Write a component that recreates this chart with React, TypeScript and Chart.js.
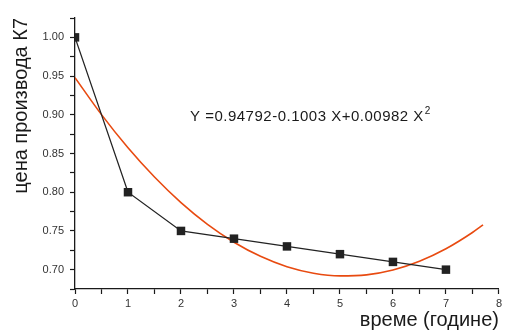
import React, { useEffect, useRef } from "react";
import { Chart, registerables } from "chart.js";

Chart.register(...registerables);

const timeX = [0, 1, 2, 3, 4, 5, 6, 7];
const priceK7 = [1.0, 0.8, 0.75, 0.74, 0.73, 0.72, 0.71, 0.7];

const fitX = [0, 0.5, 1, 1.5, 2, 2.5, 3, 3.5, 4, 4.5, 5, 5.5, 6, 6.5, 7, 7.5, 7.7];
const fitY = [0.948, 0.9002, 0.8574, 0.8196, 0.7866, 0.7585, 0.7354, 0.7172, 0.7038, 0.6954, 0.6919, 0.6933, 0.6996, 0.7109, 0.727, 0.748, 0.7578];

const yTitle = "цена производа К7";
const xTitle = "време (године)";
const equationMain = "Y =0.94792-0.1003 X+0.00982 X";
const equationSup = "2";
const equationAt = { x: 2.17, y: 0.897 };

const FONT = "'Liberation Sans', Arial, sans-serif";

const equationPlugin = {
  id: "equation",
  afterDatasetsDraw(chart: any) {
    const ctx = chart.ctx;
    const xs = chart.scales.x;
    const ys = chart.scales.y;
    const px = xs.getPixelForValue(equationAt.x);
    const py = ys.getPixelForValue(equationAt.y);
    ctx.save();
    ctx.fillStyle = "#1a1a1a";
    ctx.font = `15px ${FONT}`;
    (ctx as any).letterSpacing = "0.5px";
    ctx.textBaseline = "middle";
    ctx.textAlign = "left";
    ctx.fillText(equationMain, px, py);
    const w = ctx.measureText(equationMain).width;
    ctx.font = `10px ${FONT}`;
    (ctx as any).letterSpacing = "0px";
    ctx.fillText(equationSup, px + w + 1, py - 6);
    ctx.restore();
  },
};

export default function App() {
  const ref = useRef<HTMLCanvasElement>(null);
  useEffect(() => {
    document.body.style.margin = "0";
    const chart = new Chart(ref.current!, {
      type: "line",
      data: {
        datasets: [
          {
            label: "K7",
            data: timeX.map((x, i) => ({ x, y: priceK7[i] })),
            borderColor: "#222222",
            backgroundColor: "#222222",
            borderWidth: 1.3,
            pointStyle: "rect",
            pointRadius: 6,
            pointBorderWidth: 0,
            tension: 0,
          },
          {
            label: "fit",
            data: fitX.map((x, i) => ({ x, y: fitY[i] })),
            borderColor: "#e84a10",
            borderWidth: 1.6,
            pointRadius: 0,
            cubicInterpolationMode: "monotone",
          },
        ],
      },
      options: {
        animation: false,
        responsive: false,
        maintainAspectRatio: false,
        layout: { padding: { top: 18, right: 5, left: 9, bottom: 0 } },
        plugins: { legend: { display: false }, tooltip: { enabled: false } },
        scales: {
          x: {
            type: "linear",
            min: 0,
            max: 8,
            afterFit: (s: any) => {
              s.height = 43;
            },
            border: { color: "#1a1a1a", width: 1.3 },
            grid: { drawOnChartArea: false, tickLength: 5, color: "#1a1a1a", tickWidth: 1.2 },
            ticks: {
              stepSize: 0.5,
              autoSkip: false,
              maxRotation: 0,
              padding: 3,
              color: "#333",
              font: { family: FONT, size: 11 },
              callback: (v: any) => (Number.isInteger(v) ? String(v) : ""),
            },
            title: {
              display: true,
              text: xTitle,
              align: "end",
              color: "#1a1a1a",
              font: { family: FONT, size: 20 },
              padding: { top: 0, bottom: 0 },
            },
          },
          y: {
            type: "linear",
            min: 0.675,
            max: 1.025,
            afterFit: (s: any) => {
              s.width = 66;
            },
            border: { color: "#1a1a1a", width: 1.3 },
            grid: { drawOnChartArea: false, tickLength: 5, color: "#1a1a1a", tickWidth: 1.2 },
            ticks: {
              stepSize: 0.025,
              autoSkip: false,
              padding: 6,
              color: "#333",
              font: { family: FONT, size: 11 },
              callback: (v: any) => {
                const n = Number(v);
                return Math.abs(n * 20 - Math.round(n * 20)) < 1e-6 ? n.toFixed(2) : "";
              },
            },
            title: {
              display: true,
              text: yTitle,
              align: "end",
              color: "#1a1a1a",
              font: { family: FONT, size: 20 },
              padding: { top: 0, bottom: 0 },
            },
          },
        },
      },
      plugins: [equationPlugin],
    } as any);
    return () => chart.destroy();
  }, []);
  return (
    <div style={{ width: 505, height: 332 }}>
      <canvas ref={ref} width={505} height={332} style={{ width: 505, height: 332 }} />
    </div>
  );
}
